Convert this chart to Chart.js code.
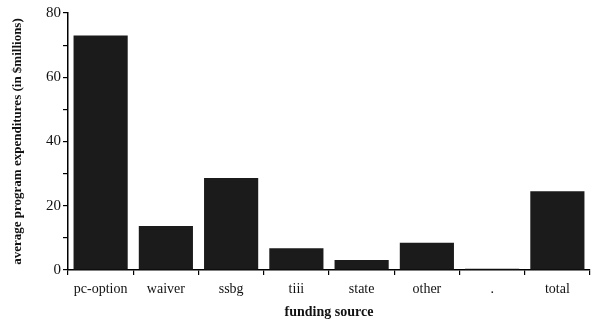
<!DOCTYPE html>
<html>
<head>
<meta charset="utf-8">
<script src="https://cdn.jsdelivr.net/npm/chart.js@4/dist/chart.umd.min.js"></script>
<style>
  html, body { margin: 0; padding: 0; background: #fff; }
  #wrap { width: 601px; height: 330px; }
</style>
</head>
<body>
<div id="wrap"><canvas id="chart" width="601" height="330"></canvas></div>
<script>
const categories = ['pc-option', 'waiver', 'ssbg', 'tiii', 'state', 'other', '.', 'total'];
const expenditures = [73, 13.7, 28.6, 6.8, 3.1, 8.5, 0.4, 24.5];
const yTickLabels = [0, 20, 40, 60, 80];

const serif = '"Liberation Serif", "Times New Roman", serif';

new Chart(document.getElementById('chart'), {
  type: 'bar',
  data: {
    labels: categories,
    datasets: [{
      data: expenditures,
      backgroundColor: '#1b1b1b',
      barPercentage: 0.83,
      categoryPercentage: 1.0
    }]
  },
  options: {
    responsive: false,
    animation: false,
    layout: { padding: { top: 13, right: 11, left: 0, bottom: 9 } },
    plugins: { legend: { display: false }, tooltip: { enabled: false } },
    scales: {
      x: {
        grid: { drawOnChartArea: false, drawTicks: true, tickLength: 5, color: '#000', lineWidth: 1.2 },
        border: { color: '#000', width: 1.5 },
        ticks: { color: '#111', font: { family: serif, size: 14 }, padding: 6, maxRotation: 0 },
        title: { display: true, text: 'funding source', color: '#111', font: { family: serif, size: 14, weight: 'bold' }, padding: { top: 4, bottom: 0 } },
        afterFit: s => { s.height = 51; }
      },
      y: {
        min: 0,
        max: 80,
        grid: { drawOnChartArea: false, drawTicks: true, tickLength: 5, color: '#000', lineWidth: 1.2 },
        border: { color: '#000', width: 1.5 },
        ticks: {
          stepSize: 10,
          color: '#111',
          font: { family: serif, size: 15 },
          padding: 2,
          callback: v => yTickLabels.includes(v) ? String(v) : ''
        },
        title: { display: true, text: 'average program expenditures (in $millions)', color: '#111', font: { family: serif, size: 13, weight: 'bold' }, padding: { top: 10, bottom: 0 } },
        afterFit: s => { s.width = 68; }
      }
    }
  }
});
</script>
</body>
</html>
